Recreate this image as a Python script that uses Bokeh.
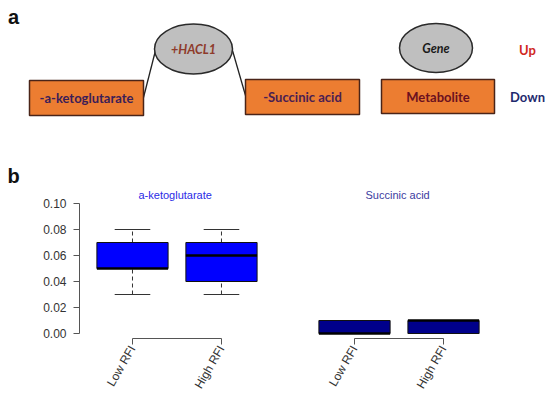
import math
from bokeh.plotting import figure
from bokeh.layouts import column, row
from bokeh.models import Range1d, FixedTicker, PrintfTickFormatter, ColumnDataSource
from bokeh.core.properties import value
from bokeh.embed import file_html
from bokeh.resources import INLINE

# ---------------- data ----------------
groups = ["Low RFI", "High RFI"]
group_pos = [1, 2]

akg_lower = [0.03, 0.03]
akg_q1 = [0.05, 0.04]
akg_med = [0.05, 0.06]
akg_q3 = [0.07, 0.07]
akg_upper = [0.08, 0.08]

suc_lower = [0.0, 0.0]
suc_q1 = [0.0, 0.0]
suc_med = [0.0, 0.01]
suc_q3 = [0.01, 0.01]
suc_upper = [0.01, 0.01]

y_ticks = [0.0, 0.02, 0.04, 0.06, 0.08, 0.10]

# panel a diagram texts
node_labels = ["-a-ketoglutarate", "-Succinic acid", "Metabolite"]
node_text_colors = ["#3b1d58", "#4a1d52", "#6b1020"]
gene_labels = ["+HACL1", "Gene"]
gene_text_colors = ["#8e3b2b", "#1a1a1a"]
legend_labels = ["Up", "Down"]
legend_colors = ["#d0281e", "#1f2a6e"]

# diagram layout (pixel positions of the schematic)
node_left = [29, 245, 381]
node_right = [143, 359, 494]
node_top = [80, 79, 79]
node_bottom = [115, 114, 113]
gene_x = [193, 435.5]
gene_y = [48.5, 47.5]
gene_w = [78, 73]
gene_h = [50, 49]
link_x0 = [155, 232]
link_y0 = [50, 50]
link_x1 = [143, 245]
link_y1 = [97, 95]
legend_x = [527, 527]
legend_y = [49, 96]

FONT = "Liberation Sans"
DFONT = "Lato"

W, H = 550, 397
TOP_H = 185

# ---------------- panel a ----------------
top = figure(width=W, height=TOP_H, x_range=Range1d(0, W), y_range=Range1d(TOP_H, 0),
             x_axis_type=None, y_axis_type=None, toolbar_location=None,
             output_backend="svg", min_border=0, outline_line_color=None)
top.grid.visible = False

top.segment(x0=link_x0, y0=link_y0, x1=link_x1, y1=link_y1, line_color="#222222", line_width=1.3)
top.quad(left=node_left, right=node_right, top=node_top, bottom=node_bottom,
         fill_color="#ec7d31", line_color="#4a2418", line_width=1.5)
node_cx = [(a + b) / 2 for a, b in zip(node_left, node_right)]
node_cy = [(a + b) / 2 for a, b in zip(node_top, node_bottom)]
top.text(x=node_cx, y=node_cy, text=node_labels, text_color=node_text_colors,
         text_font=value(DFONT), text_font_style="bold", text_font_size="13px",
         text_align="center", text_baseline="middle")
top.ellipse(x=gene_x, y=gene_y, width=gene_w, height=gene_h,
            fill_color="#bfbfbf", line_color="#2a2a2a", line_width=1.5)
top.text(x=gene_x, y=gene_y, text=gene_labels, text_color=gene_text_colors,
         text_font=value(DFONT), text_font_style="bold italic", text_font_size="12.5px",
         text_align="center", text_baseline="middle")
top.text(x=legend_x, y=legend_y, text=legend_labels, text_color=legend_colors,
         text_font=value(DFONT), text_font_style="bold", text_font_size="13px",
         text_align="center", text_baseline="middle")
top.text(x=[13, 13], y=[16, 175], text=["a", "b"], text_color="#111111",
         text_font=value(FONT), text_font_style="bold", text_font_size="20px",
         text_align="center", text_baseline="middle")


# ---------------- panel b ----------------
def boxplot(p, lower, q1, med, q3, upper, fill):
    src = ColumnDataSource(dict(
        x=group_pos,
        l=[g - 0.4 for g in group_pos], r=[g + 0.4 for g in group_pos],
        cl=[g - 0.2 for g in group_pos], cr=[g + 0.2 for g in group_pos],
        lower=lower, q1=q1, med=med, q3=q3, upper=upper))
    p.segment(x0="x", y0="q3", x1="x", y1="upper", source=src, line_color="#333333",
              line_dash="4 3", line_width=1)
    p.segment(x0="x", y0="lower", x1="x", y1="q1", source=src, line_color="#333333",
              line_dash="4 3", line_width=1)
    p.segment(x0="cl", y0="upper", x1="cr", y1="upper", source=src, line_color="#333333", line_width=1)
    p.segment(x0="cl", y0="lower", x1="cr", y1="lower", source=src, line_color="#333333", line_width=1)
    p.quad(left="l", right="r", bottom="q1", top="q3", source=src,
           fill_color=fill, line_color="#111111", line_width=1)
    p.segment(x0="l", y0="med", x1="r", y1="med", source=src, line_color="#000000", line_width=2.5)


def style_x(p):
    ax = p.xaxis[0]
    ax.ticker = FixedTicker(ticks=group_pos)
    ax.major_label_overrides = {g: lab for g, lab in zip(group_pos, groups)}
    ax.bounds = (group_pos[0], group_pos[-1])
    ax.major_label_orientation = math.pi / 3
    ax.major_tick_out = 6
    ax.major_tick_in = 0
    ax.minor_tick_line_color = None
    ax.axis_line_color = "#555555"
    ax.major_tick_line_color = "#555555"
    ax.major_label_text_font = FONT
    ax.major_label_text_font_size = "12px"
    ax.major_label_text_color = "#333333"
    ax.major_label_standoff = 2


yr = (-0.003846, 0.10231)
BOT_H = H - TOP_H
MB_TOP = 15
MB_BOT = BOT_H - MB_TOP - 138

pL = figure(width=275, height=BOT_H, x_range=Range1d(0.4045, 2.607), y_range=Range1d(*yr),
            toolbar_location=None, output_backend="svg",
            min_border_left=79, min_border_right=0, min_border_top=MB_TOP, min_border_bottom=MB_BOT,
            outline_line_color=None)
pL.grid.visible = False
boxplot(pL, akg_lower, akg_q1, akg_med, akg_q3, akg_upper, "#0000ff")
style_x(pL)
ay = pL.yaxis[0]
ay.ticker = FixedTicker(ticks=y_ticks)
ay.formatter = PrintfTickFormatter(format="%.2f")
ay.bounds = (y_ticks[0], y_ticks[-1])
ay.major_tick_out = 6
ay.major_tick_in = 0
ay.minor_tick_line_color = None
ay.axis_line_color = "#555555"
ay.major_tick_line_color = "#555555"
ay.major_label_text_font = FONT
ay.major_label_text_font_size = "12px"
ay.major_label_text_color = "#333333"
ay.major_label_standoff = 7
pL.title.text = "a-ketoglutarate"
pL.title.align = "left"
pL.title.offset = 59
pL.title.standoff = 0
pL.title.text_font = FONT
pL.title.text_font_style = "normal"
pL.title.text_font_size = "11px"
pL.title.text_color = "#2a2ae6"

pR = figure(width=W - 275, height=BOT_H, x_range=Range1d(0.1124, 3.202), y_range=Range1d(*yr),
            toolbar_location=None, output_backend="svg", y_axis_type=None,
            min_border_left=0, min_border_right=0, min_border_top=MB_TOP, min_border_bottom=MB_BOT,
            outline_line_color=None)
pR.grid.visible = False
boxplot(pR, suc_lower, suc_q1, suc_med, suc_q3, suc_upper, "#00008b")
style_x(pR)
pR.title.text = "Succinic acid"
pR.title.align = "left"
pR.title.offset = 90
pR.title.standoff = 0
pR.title.text_font = FONT
pR.title.text_font_style = "normal"
pR.title.text_font_size = "11px"
pR.title.text_color = "#3c3ca0"

layout = column(top, row(pL, pR))
open("out.html", "w").write(file_html(layout, INLINE))
